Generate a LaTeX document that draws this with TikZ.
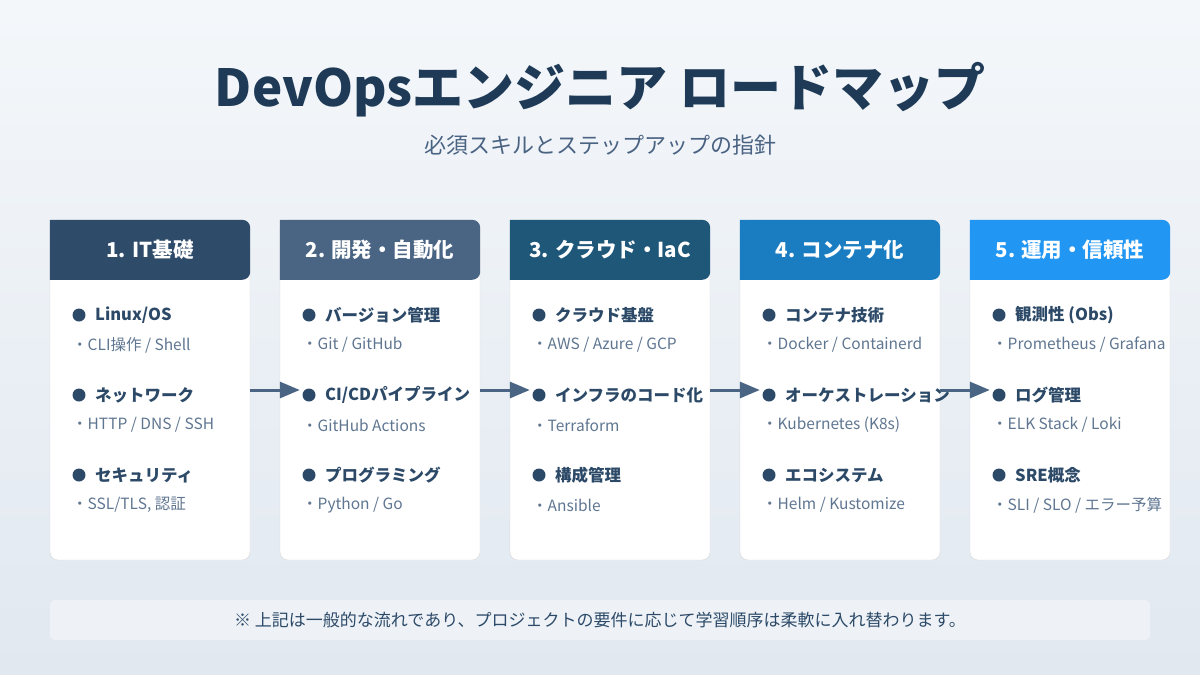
\documentclass[tikz,border=0pt]{standalone}
\usepackage{fontspec}
\setmainfont{Noto Sans CJK JP}
\usetikzlibrary{arrows.meta, positioning}
\definecolor{titlec}{HTML}{1E3A56}
\definecolor{subc}{HTML}{4A6382}
\definecolor{itemc}{HTML}{2C4A68}
\definecolor{detc}{HTML}{5F7691}
\definecolor{hdA}{HTML}{2E4B69}
\definecolor{hdB}{HTML}{4A6584}
\definecolor{hdC}{HTML}{1F5779}
\definecolor{hdD}{HTML}{1A7DC2}
\definecolor{hdE}{HTML}{2196F3}
\definecolor{bgtop}{HTML}{F4F7FA}
\definecolor{bgbot}{HTML}{E1E8F0}
\definecolor{notec}{HTML}{EEF2F7}
\newcommand\carditems[8]{%
	\fill[itemc] ({#2+29},315) circle (6.5pt);
	\node[item] (it#1a) at ({#2+45},315) {#3};
	\node[detail] (dt#1a) at ({#2+22},345) {・#4};
	\fill[itemc] ({#2+29},395) circle (6.5pt);
	\node[item] (it#1b) at ({#2+45},395) {#5};
	\node[detail] (dt#1b) at ({#2+22},425) {・#6};
	\fill[itemc] ({#2+29},475) circle (6.5pt);
	\node[item] (it#1c) at ({#2+45},475) {#7};
	\node[detail] (dt#1c) at ({#2+22},505) {・#8};
}
\begin{document}
\begin{tikzpicture}[x=1pt, y=-1pt, >=Stealth,
  card/.style={draw=black!15, fill=white, rounded corners=8pt, minimum width=200pt, minimum height=340pt, inner sep=0pt},
  item/.style={font=\bfseries\fontsize{16.5pt}{18pt}\selectfont, text=itemc, anchor=west, inner sep=0pt},
  detail/.style={font=\fontsize{15.5pt}{17pt}\selectfont, text=detc, anchor=west, inner sep=0pt},
  flow/.style={line width=3pt, draw=hdB, arrows={-Triangle[length=20pt, width=16pt, fill=hdB]}}]
	
	% 背景
	\shade[top color=bgtop, bottom color=bgbot] (0,0) rectangle (1200,675);
	\useasboundingbox (0,0) rectangle (1200,675);
	
	% タイトル
	\node[font=\bfseries\fontsize{51pt}{56pt}\selectfont, text=titlec] (title) at (600,90) {DevOpsエンジニア ロードマップ};
	\node[font=\fontsize{22pt}{26pt}\selectfont, text=subc] (subtitle) at (600,145) {必須スキルとステップアップの指針};
	
	% カード
	\foreach \i/\hd/\name in {1/hdA/{1. IT基礎}, 2/hdB/{2. 開発・自動化}, 3/hdC/{3. クラウド・IaC}, 4/hdD/{4. コンテナ化}, 5/hdE/{5. 運用・信頼性}} {
		\node[card] (card\i) at ({150+230*(\i-1)},390) {};
		\fill[\hd, rounded corners=8pt] (card\i.north west) -- (card\i.north east) -- ([yshift=-60pt]card\i.north east) [sharp corners] -- ([yshift=-60pt]card\i.north west) -- cycle;
		\node[font=\bfseries\fontsize{20.5pt}{24pt}\selectfont, text=white] (head\i) at ([yshift=-30pt]card\i.north) {\name};
	}
	
	% 項目
	\carditems{1}{50}{Linux/OS}{CLI操作 / Shell}{ネットワーク}{HTTP / DNS / SSH}{セキュリティ}{SSL/TLS, 認証}
	\carditems{2}{280}{バージョン管理}{Git / GitHub}{CI/CDパイプライン}{GitHub Actions}{プログラミング}{Python / Go}
	\carditems{3}{510}{クラウド基盤}{AWS / Azure / GCP}{インフラのコード化}{Terraform}{構成管理}{Ansible}
	\carditems{4}{740}{コンテナ技術}{Docker / Containerd}{オーケストレーション}{Kubernetes (K8s)}{エコシステム}{Helm / Kustomize}
	\carditems{5}{970}{観測性 (Obs)}{Prometheus / Grafana}{ログ管理}{ELK Stack / Loki}{SRE概念}{SLI / SLO / エラー予算}
	
	% 矢印
	\foreach \i [evaluate=\i as \j using int(\i+1)] in {1,...,4} {
		\draw[flow] (card\i.east) -- ([xshift=20pt]card\j.west);
	}
	
	% 注記
	\node[fill=notec, rounded corners=5pt, minimum width=1100pt, minimum height=40pt, font=\fontsize{17pt}{19pt}\selectfont, text=itemc] (note) at (600,620) {※ 上記は一般的な流れであり、プロジェクトの要件に応じて学習順序は柔軟に入れ替わります。};
	
\end{tikzpicture}
\end{document}
